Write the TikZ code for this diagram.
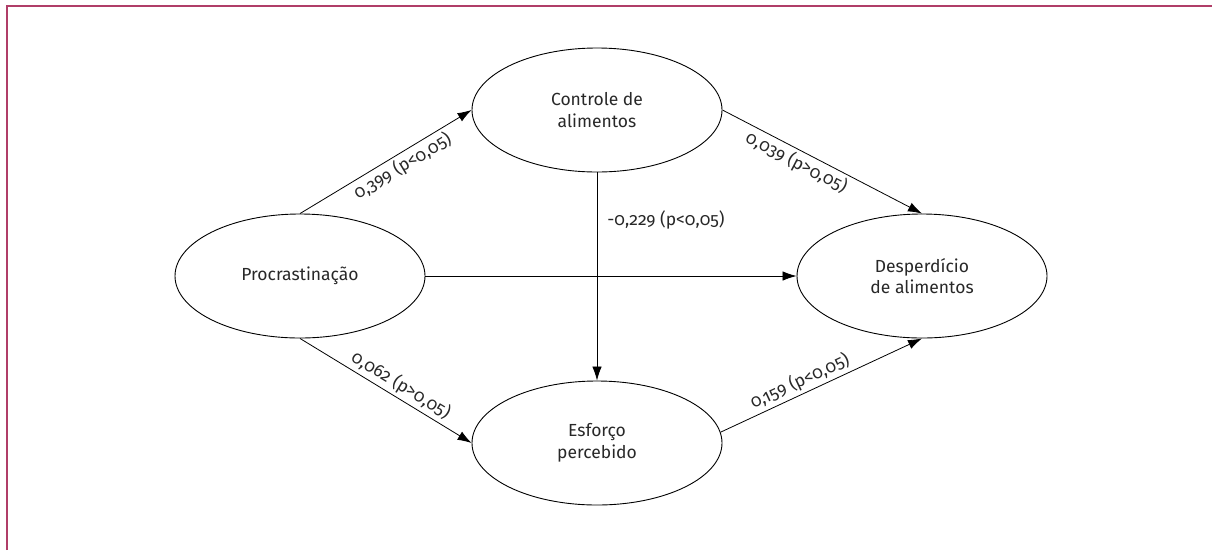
\documentclass[tikz,border=0pt]{standalone}
\usepackage{fontspec}
\setmainfont{Fira Sans}[Numbers=OldStyle]
\usetikzlibrary{shapes.geometric,arrows.meta}
\definecolor{framec}{RGB}{176,62,104}
\definecolor{txt}{RGB}{40,40,40}
\tikzset{
  ell/.style={draw=black, line width=0.9pt, ellipse, inner sep=0pt, minimum width=250pt, minimum height=124pt, align=center, text=txt, font=\fontsize{17.5}{21.5}\selectfont},
  arr/.style={draw=black, line width=0.8pt, -{Latex[length=14pt,width=9.5pt]}},
  lab/.style={text=txt, font=\fontsize{17.5}{21}\selectfont, inner sep=3pt}
}
\begin{document}
\begin{tikzpicture}[x=1pt,y=-1pt]
\useasboundingbox (0,0) rectangle (1212,550);
\draw[framec, line width=2pt] (7,550) -- (7,6) -- (1212,6);
\node[ell] (proc) at (300,276) {Procrastinação};
\node[ell] (ctrl) at (597,110) {Controle de\\alimentos};
\node[ell] (desp) at (922,276) {Desperdício\\de alimentos};
\node[ell] (esf) at (597,443) {Esforço\\percebido};
\draw[arr] (proc.north) -- node[lab, sloped, below, pos=0.56] {0,399 (p<0,05)} (ctrl.west);
\draw[arr] (ctrl.east) -- node[lab, sloped, below, pos=0.4] {0,039 (p>0,05)} (desp.north);
\draw[arr] (proc.east) -- (desp.west);
\draw[arr] (ctrl.south) -- node[lab, right, pos=0.23, xshift=7pt] {-0,229 (p<0,05)} (esf.north);
\draw[arr] (proc.south) -- node[lab, sloped, above, pos=0.55] {0,062 (p>0,05)} (esf.west);
\draw[arr] (esf.5) -- node[lab, sloped, above, pos=0.42] {0,159 (p<0,05)} (desp.south);
\end{tikzpicture}
\end{document}
